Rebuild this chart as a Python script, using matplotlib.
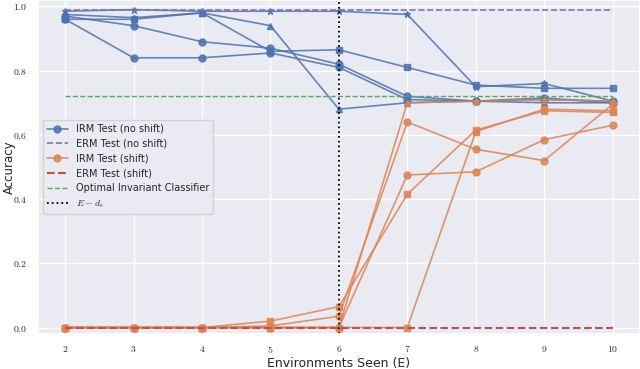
import matplotlib
matplotlib.use("Agg")
import matplotlib.pyplot as plt
import seaborn as sns

envs = [2, 3, 4, 5, 6, 7, 8, 9, 10]

# IRM test accuracy without shift, one list per run
irm_noshift = [
    [0.970, 0.940, 0.890, 0.870, 0.820, 0.720, 0.705, 0.715, 0.700],
    [0.960, 0.840, 0.840, 0.855, 0.810, 0.710, 0.705, 0.710, 0.705],
    [0.985, 0.990, 0.985, 0.985, 0.985, 0.975, 0.750, 0.760, 0.705],
    [0.975, 0.965, 0.980, 0.940, 0.680, 0.700, 0.705, 0.700, 0.700],
    [0.960, 0.960, 0.980, 0.860, 0.865, 0.810, 0.755, 0.745, 0.745],
]
noshift_markers = ["o", "o", "*", "^", "s"]

# IRM test accuracy with shift
irm_shift = [
    [0.0, 0.0, 0.0, 0.005, 0.035, 0.640, 0.555, 0.520, 0.695],
    [0.0, 0.0, 0.0, 0.0, 0.000, 0.475, 0.485, 0.585, 0.630],
    [0.0, 0.0, 0.0, 0.0, 0.000, 0.700, 0.705, 0.710, 0.705],
    [0.0, 0.0, 0.0, 0.020, 0.065, 0.415, 0.615, 0.675, 0.670],
    [0.0, 0.0, 0.0, 0.0, 0.000, 0.000, 0.610, 0.680, 0.675],
]
shift_markers = ["o", "o", "^", "s", "s"]

erm_noshift = 0.99
erm_shift = 0.0
optimal = 0.72
e_minus_de = 6

sns.set_theme(style="darkgrid")
plt.rcParams["mathtext.fontset"] = "cm"
pal = sns.color_palette("deep")

fig = plt.figure(figsize=(6.4, 3.69), dpi=100)
ax = fig.add_axes([0.059, 0.095, 0.941, 0.905])

for i, run in enumerate(irm_noshift):
    ax.plot(envs, run, color=pal[0], marker=noshift_markers[i], markersize=5,
            lw=1.2, alpha=0.85, label="IRM Test (no shift)" if i == 0 else None)
ax.plot([envs[0], envs[-1]], [erm_noshift] * 2, "--", color=pal[4], lw=1.2,
        label="ERM Test (no shift)")
for i, run in enumerate(irm_shift):
    ax.plot(envs, run, color=pal[1], marker=shift_markers[i], markersize=5,
            lw=1.2, alpha=0.85, label="IRM Test (shift)" if i == 0 else None)
ax.plot([envs[0], envs[-1]], [erm_shift] * 2, "--", color=pal[3], lw=1.5,
        label="ERM Test (shift)")
ax.plot([envs[0], envs[-1]], [optimal] * 2, "--", color=pal[2], lw=1.0,
        label="Optimal Invariant Classifier")
ax.axvline(e_minus_de, color="black", ls=":", lw=1.3, label=r"$E - d_e$")

ax.set_xlim(1.6, 10.4)
ax.set_ylim(-0.02, 1.02)
ax.set_xticks(envs, [f"${e}$" for e in envs], fontsize=7)
yt = [0.0, 0.2, 0.4, 0.6, 0.8, 1.0]
ax.set_yticks(yt, [f"${v:.1f}$" for v in yt], fontsize=7)
ax.tick_params(axis="x", pad=1)
ax.tick_params(axis="y", pad=2)
ax.set_xlabel("Environments Seen (E)", fontsize=9)
ax.set_ylabel("Accuracy", fontsize=8.5)
ax.xaxis.set_label_coords(0.5, -0.07)
ax.yaxis.set_label_coords(-0.036, 0.5)
ax.legend(loc="center left", fontsize=7, handlelength=2.2)

fig.savefig("out.png", dpi=100)
